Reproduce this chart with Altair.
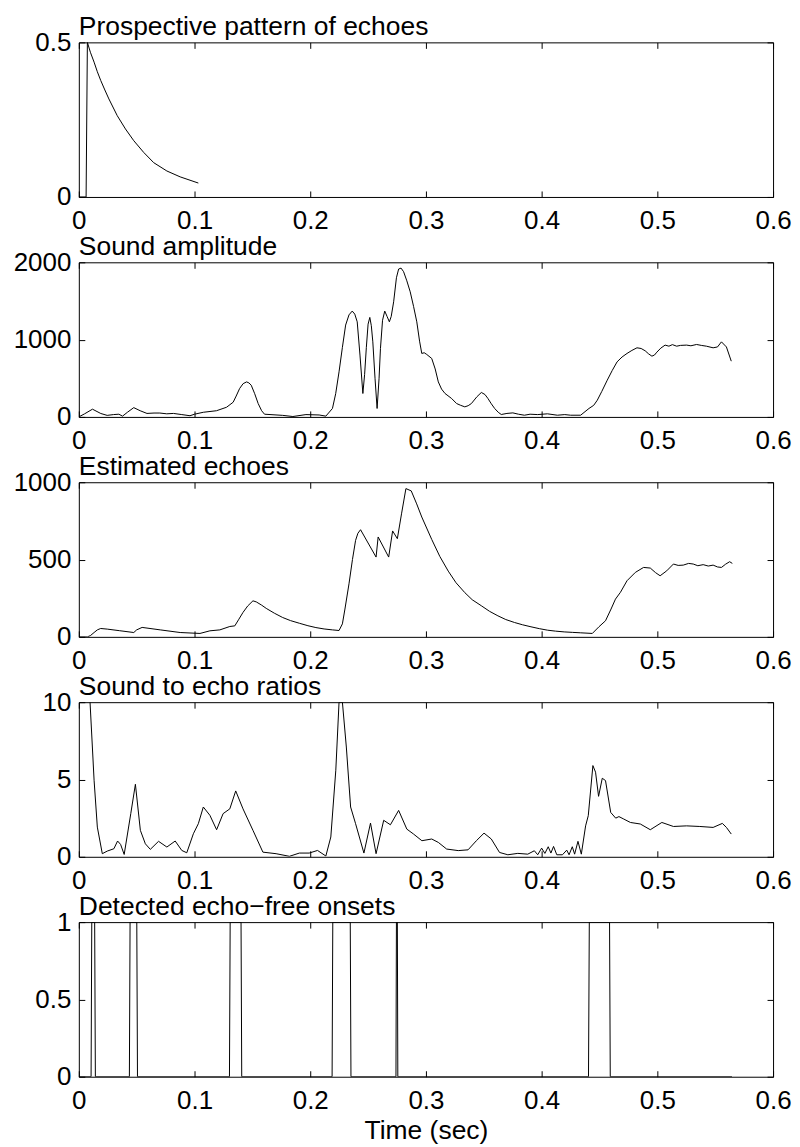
import altair as alt
import pandas as pd

FONT = "Liberation Sans"
FS = 26
TFS = 26.5

x_ticks = [0, 0.1, 0.2, 0.3, 0.4, 0.5, 0.6]

# Panel 1: Prospective pattern of echoes
p1_t = [0.0, 0.0063, 0.0074, 0.0100, 0.0132, 0.0160, 0.0189, 0.0225, 0.0260, 0.0332, 0.0403,
        0.0475, 0.0561, 0.0647, 0.0761, 0.0876, 0.1033]
p1_v = [0.0, 0.0, 0.5, 0.468, 0.436, 0.405, 0.377, 0.346, 0.317, 0.263, 0.220,
        0.182, 0.144, 0.111, 0.084, 0.065, 0.045]

# Panel 2: Sound amplitude
p2_t = [0.0, 0.005, 0.0118, 0.019, 0.0245, 0.030, 0.0346, 0.0378, 0.042, 0.0475, 0.053, 0.0589,
        0.065, 0.070, 0.076, 0.0818, 0.089, 0.0961, 0.100, 0.1076, 0.119, 0.1277, 0.1334, 0.136,
        0.139, 0.142, 0.145, 0.147, 0.149, 0.152, 0.155, 0.158, 0.1605, 0.1762, 0.185, 0.1963,
        0.2077, 0.2135, 0.2192, 0.2220, 0.2249, 0.2278, 0.2306, 0.2335, 0.2363, 0.2385, 0.2406,
        0.2430, 0.2455, 0.2470, 0.2485, 0.2500, 0.2515, 0.2528, 0.2541, 0.2560, 0.2578, 0.2595,
        0.2607, 0.2625, 0.2644, 0.2664, 0.2684, 0.2700, 0.2721, 0.2745, 0.2764, 0.2785, 0.2807,
        0.2835, 0.2864, 0.2893, 0.2921, 0.2945, 0.2964, 0.2985, 0.3007, 0.305, 0.3080, 0.3107,
        0.3135, 0.3165, 0.3222, 0.3265, 0.3300, 0.3336, 0.3365, 0.3393, 0.3440, 0.3479, 0.3510,
        0.3536, 0.3565, 0.3594, 0.3625, 0.3651, 0.3700, 0.3751, 0.3800, 0.3851, 0.3900, 0.3966,
        0.405, 0.4136, 0.420, 0.425, 0.4337, 0.4409, 0.4450, 0.4481, 0.4520, 0.4567, 0.4610,
        0.4652, 0.4695, 0.4738, 0.4780, 0.4824, 0.4860, 0.4895, 0.4925, 0.4953, 0.4975, 0.4996,
        0.5030, 0.5067, 0.5100, 0.5130, 0.5167, 0.5200, 0.5253, 0.5290, 0.5339, 0.5380, 0.5424,
        0.5482, 0.5520, 0.5554, 0.5597, 0.5639]
p2_v = [0, 40, 100, 44, 20, 30, 35, 10, 60, 120, 80, 45,
        50, 50, 40, 45, 30, 15, 35, 60, 80, 125, 190, 270,
        368, 430, 453, 440, 410, 300, 173, 80, 35, 20, 5, 30,
        25, 10, 109, 300, 583, 900, 1188, 1320, 1369, 1330, 1230,
        800, 303, 550, 900, 1200, 1287, 1180, 971, 500, 109, 500,
        886, 1250, 1369, 1300, 1230, 1300, 1489, 1800, 1913, 1925, 1878,
        1760, 1619, 1430, 1230, 980, 821, 830, 808, 756, 620, 453,
        360, 303, 238, 173, 150, 130, 145, 173, 260, 316, 290,
        238, 170, 109, 60, 31, 45, 52, 35, 22, 35, 30,
        40, 22, 30, 22, 22, 109, 150, 216, 330, 475, 600,
        712, 775, 821, 860, 894, 885, 855, 815, 786, 800, 838,
        890, 929, 915, 935, 915, 925, 929, 920, 937, 925, 915,
        894, 905, 971, 905, 721]

# Panel 3: Estimated echoes
p3_t = [0.0, 0.0074, 0.0100, 0.0132, 0.0160, 0.0189, 0.0246, 0.035, 0.0475, 0.0500, 0.0547,
        0.0704, 0.0876, 0.1047, 0.1133, 0.1219, 0.1305, 0.1348, 0.1380, 0.1419, 0.1460, 0.1505,
        0.1534, 0.158, 0.162, 0.169, 0.1762, 0.183, 0.1906, 0.198, 0.2049, 0.212, 0.2192, 0.2249,
        0.2278, 0.2300, 0.2335, 0.2365, 0.2392, 0.2412, 0.2435, 0.2569, 0.2587, 0.2678, 0.2712,
        0.2753, 0.2790, 0.2827, 0.2873, 0.2920, 0.2964, 0.305, 0.312, 0.3193, 0.326, 0.3336,
        0.340, 0.3479, 0.355, 0.3622, 0.369, 0.3765, 0.3835, 0.3908, 0.398, 0.4052, 0.412,
        0.4195, 0.4265, 0.4338, 0.4438, 0.4495, 0.4552, 0.4600, 0.4638, 0.4681, 0.4738, 0.481,
        0.4881, 0.4939, 0.4985, 0.5024, 0.5081, 0.5139, 0.5180, 0.5224, 0.5270, 0.531, 0.5350,
        0.5396, 0.5440, 0.5482, 0.5520, 0.5554, 0.5590, 0.5625, 0.5648]
p3_v = [0, 0, 8, 28, 45, 54, 50, 40, 28, 45, 61,
        45, 28, 22, 39, 45, 67, 71, 110, 158, 200, 233,
        226, 205, 184, 153, 125, 105, 88, 72, 60, 51, 45, 41,
        84, 180, 343, 500, 624, 670, 693, 516, 646, 516, 685,
        635, 800, 959, 944, 860, 775, 630, 520, 425, 350, 286,
        240, 201, 165, 136, 112, 93, 78, 65, 53, 43, 37,
        32, 29, 26, 22, 65, 104, 180, 244, 288, 363, 417,
        449, 445, 415, 395, 427, 471, 462, 464, 475, 471, 460,
        467, 458, 464, 452, 449, 470, 486, 475]

# Panel 4: Sound to echo ratios
p4_t = [0.0097, 0.0132, 0.016, 0.0203, 0.0246, 0.0303, 0.0335, 0.0361, 0.0392, 0.0449, 0.0489,
        0.0532, 0.0575, 0.0618, 0.0689, 0.0761, 0.0833, 0.089, 0.0933, 0.099, 0.1033, 0.1076,
        0.1133, 0.1191, 0.1247, 0.1305, 0.1356, 0.1419, 0.1505, 0.1591, 0.1705, 0.182, 0.1906,
        0.1991, 0.2063, 0.2135, 0.2178, 0.2221, 0.2249, 0.2278, 0.2312, 0.2349, 0.2392, 0.2464,
        0.2521, 0.2569, 0.2635, 0.2693, 0.2764, 0.2835, 0.2893, 0.2965, 0.305, 0.3107, 0.3179,
        0.3279, 0.3364, 0.3436, 0.3502, 0.3565, 0.3636, 0.3708, 0.3794, 0.388, 0.3937, 0.3966,
        0.4, 0.4028, 0.4057, 0.408, 0.4103, 0.4131, 0.418, 0.4217, 0.4237, 0.4265, 0.4285,
        0.4314, 0.4343, 0.438, 0.4403, 0.4443, 0.4466, 0.4492, 0.4524, 0.4552, 0.4597, 0.464,
        0.4668, 0.471, 0.4767, 0.4853, 0.4939, 0.5039, 0.5139, 0.5253, 0.5367, 0.5482, 0.5562,
        0.5597, 0.5639]
p4_v = [10, 4.95, 1.92, 0.2, 0.37, 0.52, 1.02, 0.8, 0.15, 2.79, 4.69,
        1.71, 0.84, 0.48, 1.0, 0.63, 1.02, 0.41, 0.26, 1.49, 2.14, 3.22,
        2.68, 1.75, 2.79, 3.1, 4.26, 3.1, 1.71, 0.3, 0.2, 0.03, 0.24,
        0.24, 0.41, 0.05, 1.28, 5.6, 10, 10, 7.1, 3.22, 2.14, 0.24,
        2.18, 0.2, 2.36, 2.07, 3.0, 1.79, 1.47, 1.04, 1.15, 0.93, 0.5,
        0.4, 0.45, 1.04, 1.53, 1.15, 0.28, 0.13, 0.22, 0.17, 0.39, 0.13,
        0.56, 0.22, 0.65, 0.24, 0.67, 0.13, 0.13, 0.43, 0.13, 0.65, 0.17,
        1.0, 0.17, 2.0, 2.66, 5.9, 5.47, 3.91, 5.08, 4.93, 2.87, 2.5,
        2.6, 2.44, 2.22, 2.12, 1.75, 2.22, 1.96, 2.0, 1.96, 1.9, 2.16,
        1.9, 1.47]

# Panel 5: Detected echo-free onsets
p5_t = [0.0, 0.0106, 0.0112, 0.0137, 0.0143, 0.0437, 0.0443, 0.0501, 0.0507, 0.1302, 0.1308,
        0.1402, 0.1408, 0.2189, 0.2195, 0.2346, 0.2352, 0.2741, 0.2745, 0.2753, 0.2757,
        0.4405, 0.4412, 0.4587, 0.4593, 0.5645]
p5_v = [0, 0, 1, 1, 0, 0, 1, 1, 0, 0, 1,
        1, 0, 0, 1, 1, 0, 0, 1, 1, 0,
        0, 1, 1, 0, 0]

titles = ["Prospective pattern of echoes", "Sound amplitude", "Estimated echoes",
          "Sound to echo ratios", "Detected echo\u2212free onsets"]
y_domains = [[0, 0.5], [0, 2000], [0, 1000], [0, 10], [0, 1]]
y_ticks = [[0, 0.5], [0, 1000, 2000], [0, 500, 1000], [0, 5, 10], [0, 0.5, 1]]
y_formats = [".1~f", "d", "d", "d", ".1~f"]

W, H = 696, 155
TICK = 6


def panel(ts, vs, title, ydom, yvals, yfmt, last=False):
    df = pd.DataFrame({"t": ts, "v": vs})
    xs = alt.Scale(domain=[0, 0.6], nice=False, zero=False)
    ys = alt.Scale(domain=ydom, nice=False, zero=False)
    lab_x = dict(values=x_ticks, format=".1~f", tickSize=0, domain=False, grid=False,
                 labelFont=FONT, labelFontSize=FS, labelColor="black", labelPadding=11,
                 labelFlush=False, labelOverlap=False)
    if last:
        lab_x.update(title="Time (sec)", titleFont=FONT, titleFontSize=TFS,
                     titleFontWeight="normal", titleColor="black", titlePadding=4)
    else:
        lab_x.update(title=None)
    lab_y = dict(values=yvals, format=yfmt, tickSize=0, domain=False, grid=False, title=None,
                 labelFont=FONT, labelFontSize=FS, labelColor="black", labelPadding=8,
                 labelFlush=False, labelOverlap=False, labelBaseline="middle")

    def tick_axis(vals, orient):
        return alt.Axis(values=vals, orient=orient, offset=-TICK, tickSize=TICK,
                        tickColor="black", tickWidth=1, labels=False, domain=False,
                        grid=False, title=None)

    base = alt.Chart(df)
    a = base.mark_line(color="black", strokeWidth=1, clip=True).encode(
        x=alt.X("t:Q", scale=xs, axis=alt.Axis(orient="bottom", **lab_x)),
        y=alt.Y("v:Q", scale=ys, axis=alt.Axis(orient="left", **lab_y)),
    )
    b = base.mark_line(opacity=0, clip=True).encode(
        x=alt.X("t:Q", scale=xs, axis=tick_axis(x_ticks, "bottom")),
        y=alt.Y("v:Q", scale=ys, axis=tick_axis(yvals, "left")),
    )
    c = base.mark_line(opacity=0, clip=True).encode(
        x=alt.X("t:Q", scale=xs, axis=tick_axis(x_ticks, "top")),
        y=alt.Y("v:Q", scale=ys, axis=tick_axis(yvals, "right")),
    )
    return alt.layer(a, b, c).resolve_axis(x="independent", y="independent").properties(
        width=W, height=H,
        title=alt.TitleParams(title, anchor="start", frame="group", font=FONT, fontSize=TFS,
                              fontWeight="normal", color="black", offset=-11),
    )


panels = [
    panel(p1_t, p1_v, titles[0], y_domains[0], y_ticks[0], y_formats[0]),
    panel(p2_t, p2_v, titles[1], y_domains[1], y_ticks[1], y_formats[1]),
    panel(p3_t, p3_v, titles[2], y_domains[2], y_ticks[2], y_formats[2]),
    panel(p4_t, p4_v, titles[3], y_domains[3], y_ticks[3], y_formats[3]),
    panel(p5_t, p5_v, titles[4], y_domains[4], y_ticks[4], y_formats[4], last=True),
]

chart = alt.vconcat(*panels, spacing=65.5, bounds="flush").properties(
    padding={"left": 4, "top": 4, "right": 0, "bottom": 0}
).configure_view(stroke="black", strokeWidth=1)

chart.save("out.html", embed_options={"renderer": "svg", "actions": False})
